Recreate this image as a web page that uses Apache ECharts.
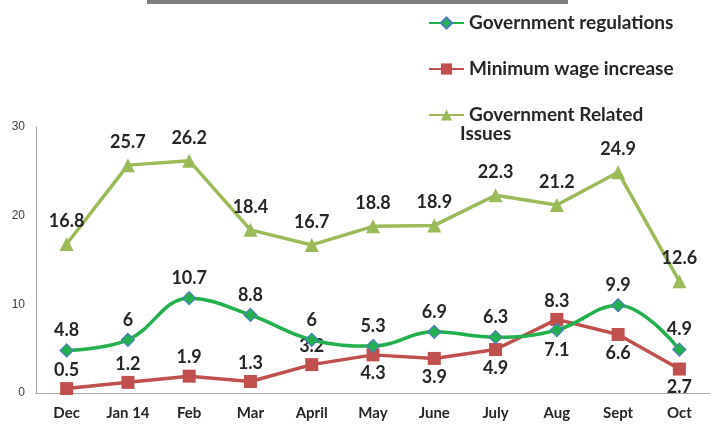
<!DOCTYPE html>
<html><head><meta charset="utf-8">
<script src="https://cdn.jsdelivr.net/npm/echarts@6/dist/echarts.min.js"></script>
<style>html,body{margin:0;padding:0;background:#fff}#c{width:710px;height:428px}</style>
</head><body><div id="c"></div>
<script>
const categories = ['Dec','Jan 14','Feb','Mar','April','May','June','July','Aug','Sept','Oct'];
const govRegulations = [4.8, 6, 10.7, 8.8, 6, 5.3, 6.9, 6.3, 7.1, 9.9, 4.9];
const minWage = [0.5, 1.2, 1.9, 1.3, 3.2, 4.3, 3.9, 4.9, 8.3, 6.6, 2.7];
const govRelated = [16.8, 25.7, 26.2, 18.4, 16.7, 18.8, 18.9, 22.3, 21.2, 24.9, 12.6];
const yTicks = [0, 10, 20, 30];
const seriesNames = ['Government regulations', 'Minimum wage increase', 'Government Related Issues'];

// label placement (style only)
const govRegPos = ['top','top','top','top','top','top','top','top','bottom','top','top'];
const minWagePos = ['top','top','top','top','top','bottom','bottom','bottom','top','bottom','bottom'];

const labelFont = {fontFamily:'Lato', fontWeight:'bold', fontSize:18, color:'#262626'};
function withPos(vals, pos){ return vals.map((v,i)=>({value:v, label:{position:pos[i]}})); }

const chart = echarts.init(document.getElementById('c'));
chart.setOption({
  animation:false,
  grid:{left:36, right:-5, top:127, bottom:35},
  graphic:[
    {type:'rect', shape:{x:147, y:0, width:421, height:4}, style:{fill:'#7f7f7f'}},
    {type:'text', left:460, top:124, style:{text:'Issues', font:'bold 19px Lato', fill:'#262626'}}
  ],
  legend:{
    orient:'vertical', left:423, top:7, itemWidth:35, itemHeight:14, itemGap:24,
    textStyle:{fontFamily:'Lato', fontWeight:'bold', fontSize:19, color:'#262626', lineHeight:22},
    formatter: n => n === 'Government Related Issues' ? 'Government Related' : n,
    data: seriesNames
  },
  xAxis:{type:'category', data:categories, boundaryGap:true,
    axisLine:{lineStyle:{color:'#a6a6a6'}}, axisTick:{show:false},
    axisLabel:{margin:13, fontFamily:'Lato', fontWeight:'bold', fontSize:15, color:'#262626'}},
  yAxis:{type:'value', min:yTicks[0], max:yTicks[yTicks.length-1], interval:10,
    splitLine:{show:false}, axisLine:{show:true, lineStyle:{color:'#a6a6a6'}}, axisTick:{show:false},
    axisLabel:{margin:11, fontFamily:'Liberation Sans', fontSize:12, color:'#404040'}},
  series:[
    {name:seriesNames[0], type:'line', smooth:0.4, data:withPos(govRegulations, govRegPos),
      symbol:'diamond', symbolSize:13, z:3,
      lineStyle:{color:'#22b14c', width:3.5},
      itemStyle:{color:'#22b14c', borderColor:'#4a7ebb', borderWidth:1.2},
      label:{show:true, distance:4, ...labelFont}},
    {name:seriesNames[1], type:'line', data:withPos(minWage, minWagePos),
      symbol:'rect', symbolSize:13, z:2,
      lineStyle:{color:'#c0504d', width:3.5},
      itemStyle:{color:'#c0504d'},
      label:{show:true, distance:3, ...labelFont}},
    {name:seriesNames[2], type:'line', data:govRelated,
      symbol:'triangle', symbolSize:14, z:2,
      lineStyle:{color:'#9bbb59', width:3.5},
      itemStyle:{color:'#9bbb59'},
      label:{show:true, position:'top', distance:7, ...labelFont}}
  ]
});
</script></body></html>
